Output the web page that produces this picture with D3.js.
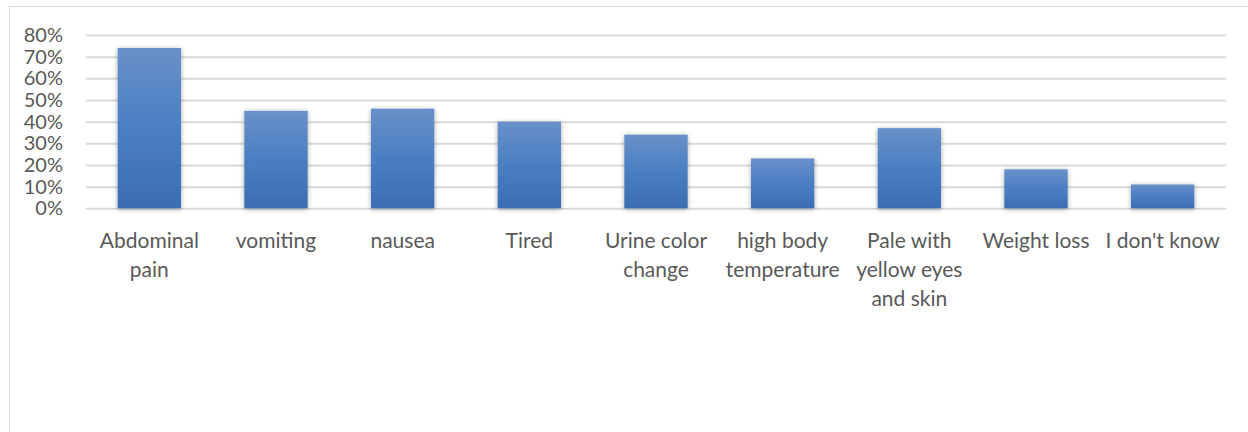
<!DOCTYPE html>
<html>
<head>
<meta charset="utf-8">
<script src="https://cdn.jsdelivr.net/npm/d3@7"></script>
<style>
  body { margin: 0; background: #fff; }
  svg { display: block; }
  text { font-family: Lato, "Open Sans", sans-serif; fill: #595959; }
</style>
</head>
<body>
<svg width="1248" height="432"></svg>
<script>
// symptoms and share of answers
var categories = ["Abdominal pain", "vomiting", "nausea", "Tired", "Urine color change",
  "high body temperature", "Pale with yellow eyes and skin", "Weight loss", "I don't know"];
var values = [0.74, 0.45, 0.46, 0.40, 0.34, 0.23, 0.37, 0.18, 0.11];
var yTicks = [0, 0.1, 0.2, 0.3, 0.4, 0.5, 0.6, 0.7, 0.8];
// how the labels break, as in the picture
var labelLines = [["Abdominal", "pain"], ["vomiting"], ["nausea"], ["Tired"], ["Urine color", "change"],
  ["high body", "temperature"], ["Pale with", "yellow eyes", "and skin"], ["Weight loss"], ["I don't know"]];

var svg = d3.select('svg');
var width = +svg.attr('width');
var height = +svg.attr('height');

var plotLeft = 86, plotRight = 1226, plotTop = 35, plotBottom = 208.3;

// chart border
svg.append('rect')
  .attr('x', 9.5).attr('y', 6.5)
  .attr('width', 1260).attr('height', 440)
  .attr('fill', 'none')
  .attr('stroke', '#d9d9d9');

var defs = svg.append('defs');
var grad = defs.append('linearGradient')
  .attr('id', 'barGrad')
  .attr('x1', 0).attr('y1', 0).attr('x2', 0).attr('y2', 1);
grad.append('stop').attr('offset', '0%').attr('stop-color', '#6990c8');
grad.append('stop').attr('offset', '50%').attr('stop-color', '#4a7fc2');
grad.append('stop').attr('offset', '100%').attr('stop-color', '#3b6db1');

var shadow = defs.append('filter')
  .attr('id', 'shadow')
  .attr('x', '-30%').attr('y', '-30%').attr('width', '160%').attr('height', '160%');
shadow.append('feDropShadow')
  .attr('dx', 0).attr('dy', 1)
  .attr('stdDeviation', 2.5)
  .attr('flood-color', '#000')
  .attr('flood-opacity', 0.35);

var x = d3.scaleBand()
  .domain(categories)
  .range([plotLeft, plotRight])
  .paddingInner(0.5)
  .paddingOuter(0.25);

var y = d3.scaleLinear()
  .domain([0, 0.8])
  .range([plotBottom, plotTop]);

// gridlines
var grid = svg.append('g')
  .attr('transform', 'translate(' + plotLeft + ',0)')
  .call(d3.axisLeft(y).tickValues(yTicks).tickSize(-(plotRight - plotLeft)).tickFormat(''));
grid.select('.domain').remove();
grid.selectAll('line').attr('stroke', '#d9d9d9').attr('stroke-width', 2);

// y labels
var yAxis = svg.append('g')
  .attr('transform', 'translate(63,0)')
  .call(d3.axisLeft(y).tickValues(yTicks).tickSize(0).tickPadding(0).tickFormat(d3.format('.0%')));
yAxis.select('.domain').remove();
yAxis.selectAll('text')
  .attr('font-size', 20)
  .attr('fill', '#595959')
  .attr('font-family', 'Lato, sans-serif');

// bars
svg.append('g').selectAll('rect')
  .data(values)
  .enter()
  .append('rect')
  .attr('x', function(d, i) { return x(categories[i]); })
  .attr('y', function(d) { return y(d); })
  .attr('width', x.bandwidth())
  .attr('height', function(d) { return y(0) - y(d); })
  .attr('fill', 'url(#barGrad)')
  .attr('filter', 'url(#shadow)');

// category labels
var labels = svg.append('g').selectAll('text')
  .data(categories)
  .enter()
  .append('text')
  .attr('text-anchor', 'middle')
  .attr('font-size', 21)
  .attr('x', function(d) { return x(d) + x.bandwidth() / 2; })
  .attr('y', 248);

labels.each(function(d, i) {
  var t = d3.select(this);
  labelLines[i].forEach(function(line, j) {
    t.append('tspan')
      .attr('x', x(d) + x.bandwidth() / 2)
      .attr('dy', j === 0 ? 0 : 29)
      .text(line);
  });
});
</script>
</body>
</html>
